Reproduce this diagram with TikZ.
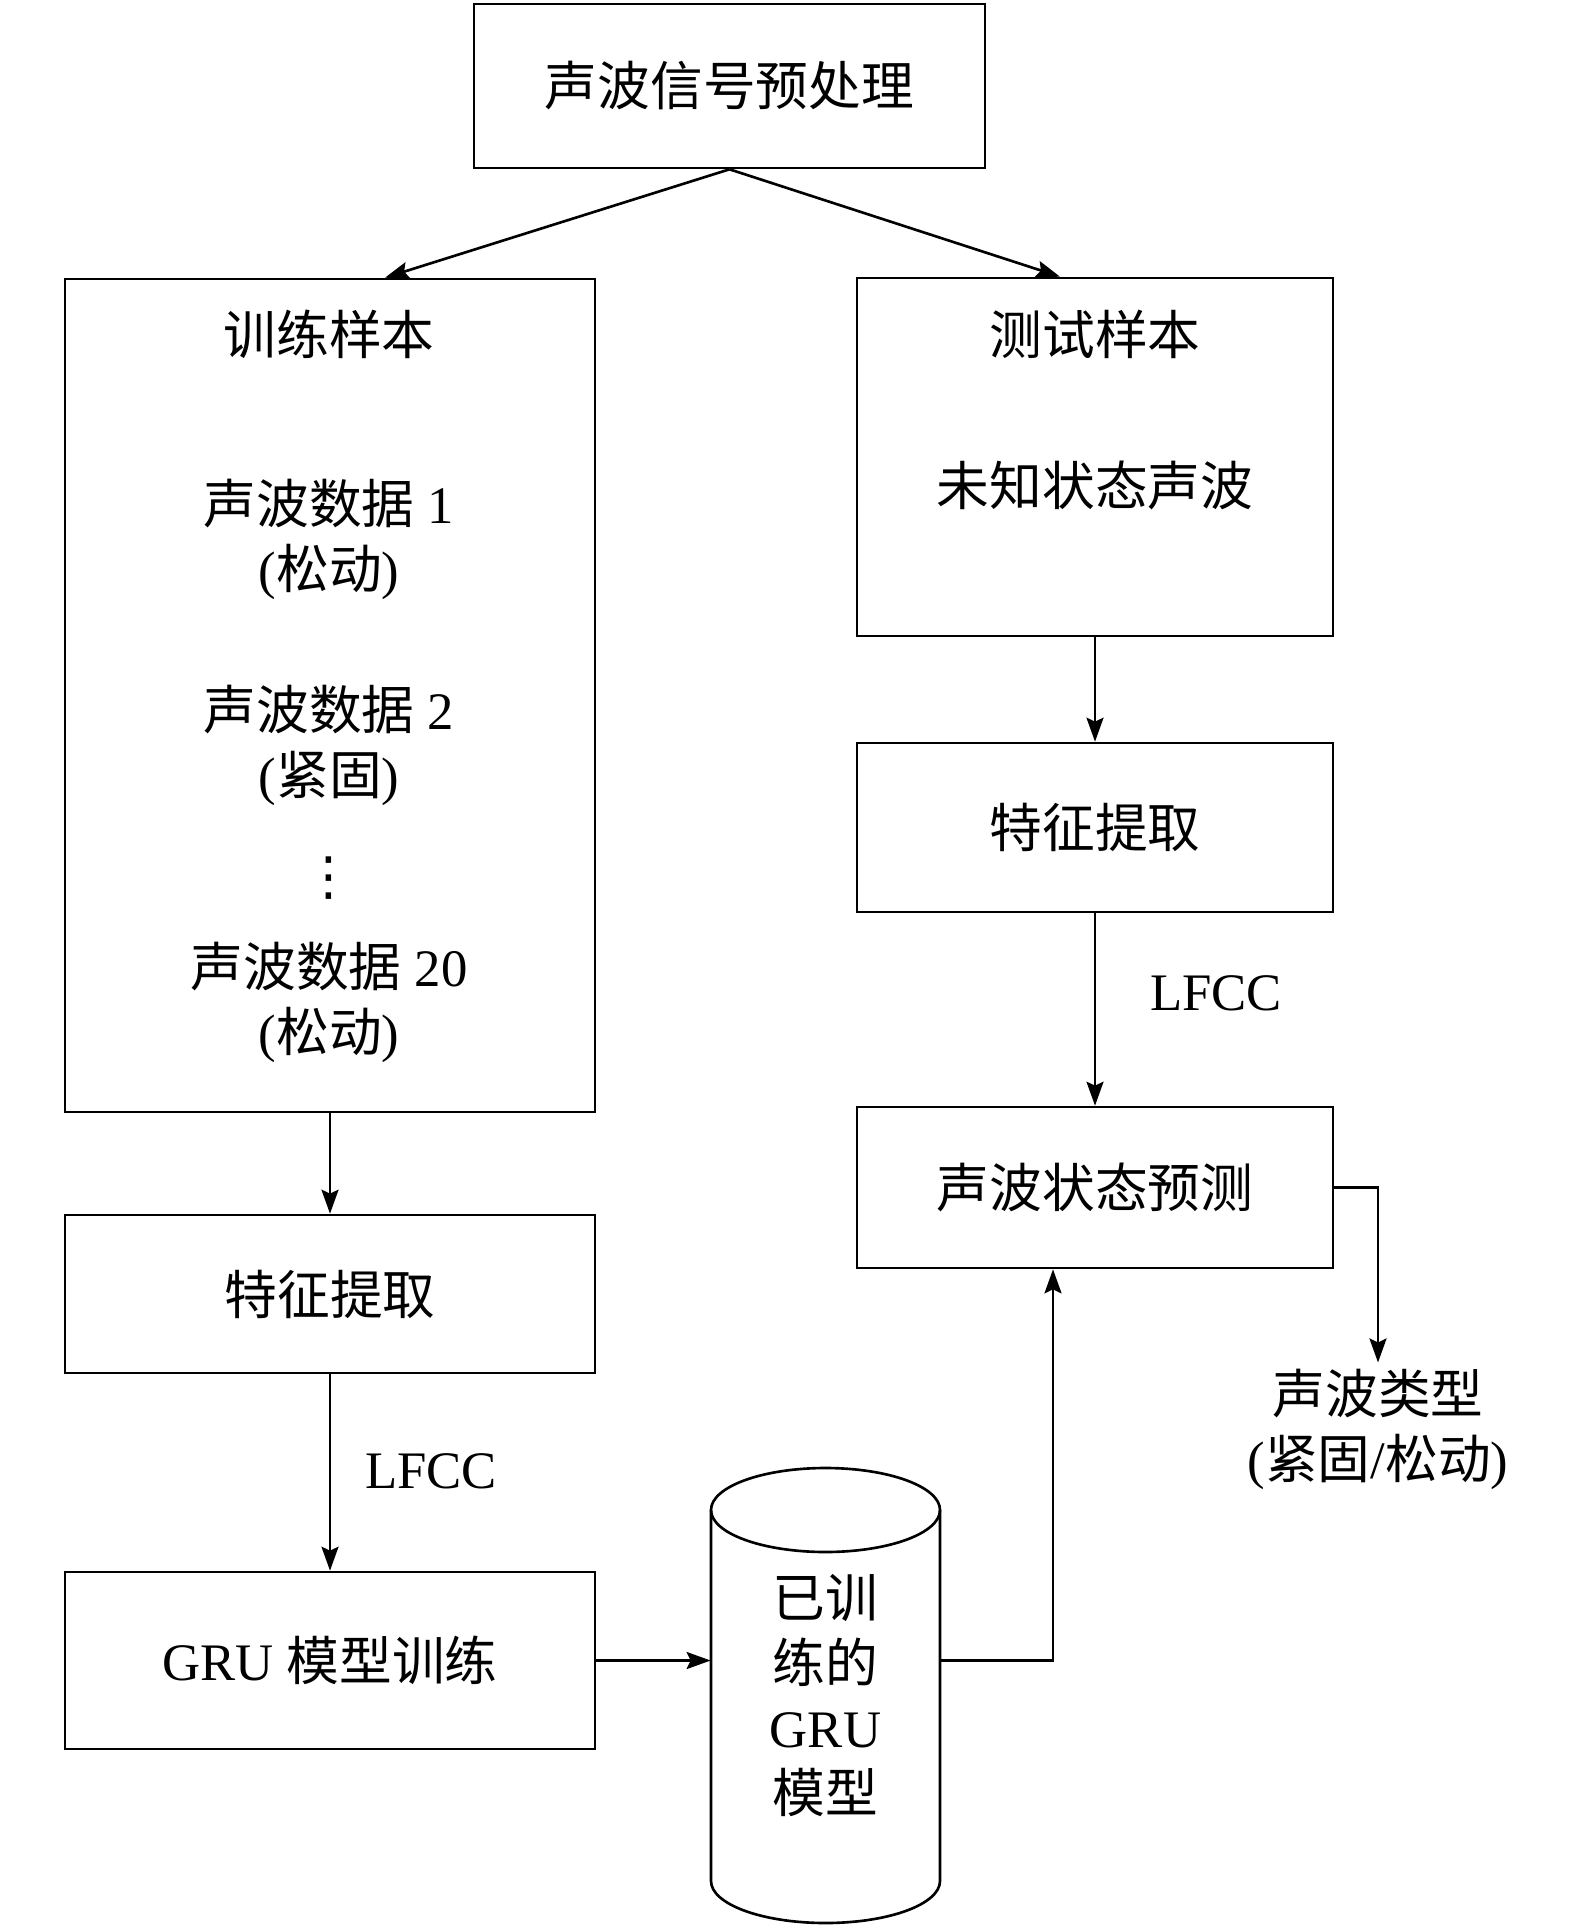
\documentclass[tikz,border=0pt]{standalone}
\usepackage{fontspec}
\setmainfont{Liberation Serif}
\newfontfamily\cjk{Noto Sans CJK SC}
\newfontfamily\symf{DejaVu Sans}
\usetikzlibrary{arrows.meta}

\tikzset{
  box/.style={draw, line width=1.5pt, inner sep=0pt, font=\fontsize{30}{37}\selectfont},
  lbl/.style={align=center, font=\fontsize{30}{37}\selectfont},
  flow/.style={line width=1.5pt, -{Stealth[length=0.48cm, width=0.34cm, inset=0.08cm]}}
}

\begin{document}
\begin{tikzpicture}
        \useasboundingbox (0,0) rectangle (31.5,-38.54);

        \node[box, minimum width=10.22cm, minimum height=3.28cm] (pre) at (14.59,-1.72) {\cjk 声波信号预处理};
        \node[box, minimum width=10.6cm, minimum height=16.66cm] (train) at (6.6,-13.91) {};
        \node[box, minimum width=9.52cm, minimum height=7.16cm] (test) at (21.9,-9.14) {};
        \node[box, minimum width=9.52cm, minimum height=3.38cm] (featR) at (21.9,-16.55) {\cjk 特征提取};
        \node[box, minimum width=9.52cm, minimum height=3.22cm] (pred) at (21.9,-23.75) {\cjk 声波状态预测};
        \node[box, minimum width=10.6cm, minimum height=3.16cm] (featL) at (6.6,-25.88) {\cjk 特征提取};
        \node[box, minimum width=10.6cm, minimum height=3.54cm] (gru) at (6.6,-33.21) {GRU {\cjk 模型训练}};

        % training samples
        \node[lbl] (trainT) at (6.58,-6.68) {\cjk 训练样本};
        \node[lbl] (wave1) at (6.58,-10.78) {{\cjk 声波数据} 1\\({\cjk 松动})};
        \node[lbl] (wave2) at (6.58,-14.91) {{\cjk 声波数据} 2\\({\cjk 紧固})};
        \node[lbl, inner sep=0pt] (dots) at (6.58,-17.56) {\symf ⋮};
        \node[lbl] (wave20) at (6.58,-20.04) {{\cjk 声波数据} 20\\({\cjk 松动})};

        % test samples
        \node[lbl] (testT) at (21.9,-6.68) {\cjk 测试样本};
        \node[lbl] (unknown) at (21.9,-9.7) {\cjk 未知状态声波};

        % trained model
        \draw[line width=1.5pt] (16.51,-30.2) ellipse (2.29 and 0.84);
        \draw[line width=1.5pt] (14.22,-30.2) -- (14.22,-37.62)
            arc[start angle=180, end angle=360, x radius=2.29, y radius=0.84] -- (18.8,-30.2);
        \node[lbl, minimum width=4.58cm, minimum height=9.1cm, inner sep=0pt] (model) at (16.51,-33.91)
            {{\cjk 已训}\\{\cjk 练的}\\GRU\\{\cjk 模型}};

        \node[lbl] (lfccR) at (24.32,-19.86) {LFCC};
        \node[lbl] (lfccL) at (8.62,-29.42) {LFCC};
        \node[lbl] (kind) at (27.56,-28.58) {{\cjk 声波类型}\\({\cjk 紧固}/{\cjk 松动})};

        \draw[flow] (pre.south) -- ([xshift=1.1cm]train.north);
        \draw[flow] (pre.south) -- ([xshift=-0.7cm]test.north);
        \draw[flow] (test.south) -- (featR.north);
        \draw[flow] (featR.south) -- (pred.north);
        \draw[flow] (train.south) -- (featL.north);
        \draw[flow] (featL.south) -- (gru.north);
        \draw[flow] (gru.east) -- (gru.east -| model.west);
        \draw[flow] (gru.east -| model.east) -| ([xshift=-0.84cm]pred.south);
        \draw[flow] (pred.east) -| (kind.north);

    \end{tikzpicture}
\end{document}
